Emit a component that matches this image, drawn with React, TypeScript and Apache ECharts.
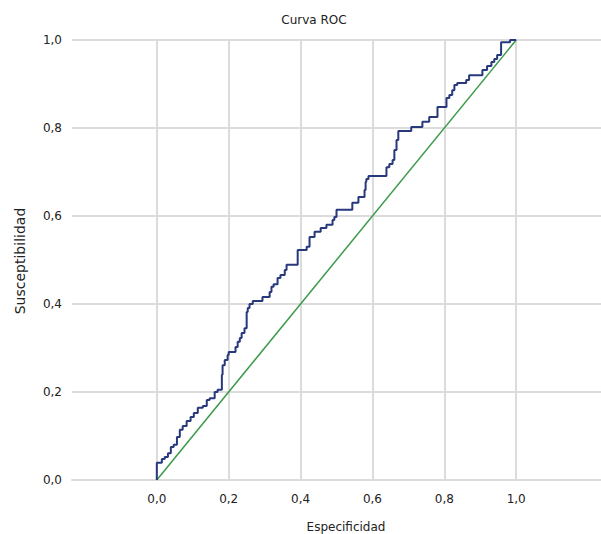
import React, { useEffect, useRef } from 'react';
import * as echarts from 'echarts';

const xTicks = [0, 0.2, 0.4, 0.6, 0.8, 1.0];
const rocX = [0, 0.014, 0.022, 0.031, 0.039, 0.047, 0.056, 0.064, 0.072, 0.083, 0.094, 0.103, 0.114, 0.128, 0.139, 0.147, 0.161, 0.169, 0.181, 0.183, 0.189, 0.197, 0.2, 0.219, 0.225, 0.231, 0.236, 0.244, 0.25, 0.253, 0.258, 0.267, 0.294, 0.314, 0.319, 0.325, 0.336, 0.344, 0.356, 0.361, 0.392, 0.417, 0.425, 0.439, 0.456, 0.472, 0.489, 0.494, 0.5, 0.544, 0.561, 0.578, 0.581, 0.583, 0.589, 0.639, 0.647, 0.656, 0.661, 0.667, 0.672, 0.708, 0.739, 0.758, 0.781, 0.806, 0.814, 0.822, 0.828, 0.836, 0.861, 0.869, 0.906, 0.919, 0.931, 0.939, 0.947, 0.958, 0.983, 1];
const rocY = [0, 0.039, 0.048, 0.052, 0.061, 0.075, 0.08, 0.098, 0.114, 0.123, 0.134, 0.143, 0.152, 0.164, 0.168, 0.182, 0.186, 0.2, 0.205, 0.239, 0.261, 0.273, 0.284, 0.291, 0.302, 0.314, 0.323, 0.334, 0.345, 0.382, 0.391, 0.4, 0.407, 0.416, 0.427, 0.439, 0.445, 0.459, 0.466, 0.477, 0.489, 0.523, 0.53, 0.552, 0.564, 0.573, 0.58, 0.591, 0.598, 0.614, 0.63, 0.643, 0.659, 0.677, 0.684, 0.691, 0.711, 0.718, 0.727, 0.75, 0.773, 0.793, 0.802, 0.814, 0.825, 0.848, 0.868, 0.875, 0.886, 0.898, 0.902, 0.909, 0.92, 0.932, 0.941, 0.95, 0.957, 0.966, 0.995, 1];
const refX = [0, 1];
const refY = [0, 1];

const FONT = '"DejaVu Sans", Verdana, sans-serif';
const TEXT = '#222222';
const GRID = '#dcdcdc';
const fmt = (v: number) => v.toFixed(1).replace('.', ',');

export default function App() {
  const ref = useRef<HTMLDivElement>(null);
  useEffect(() => {
    const chart = echarts.init(ref.current!, null, { renderer: 'svg' });
    chart.setOption({
      animation: false,
      backgroundColor: '#ffffff',
      grid: { left: 72, right: -1, top: 40, bottom: 54 },
      graphic: [
        { type: 'text', x: 314, y: 20, style: { text: 'Curva ROC', fontSize: 12, fontFamily: FONT, fill: TEXT, align: 'center', verticalAlign: 'middle' } },
        { type: 'text', x: 346, y: 527, style: { text: 'Especificidad', fontSize: 12, fontFamily: FONT, fill: TEXT, align: 'center', verticalAlign: 'middle' } },
        { type: 'text', x: 20, y: 261, rotation: Math.PI / 2, style: { text: 'Susceptibilidad', fontSize: 14, fontFamily: FONT, fill: TEXT, align: 'center', verticalAlign: 'middle' } },
      ],
      xAxis: {
        type: 'value',
        min: -0.236,
        max: 1.236,
        axisLine: { show: true, onZero: false, lineStyle: { color: GRID, width: 2 } },
        axisTick: { show: false, customValues: xTicks },
        axisLabel: { customValues: xTicks, formatter: fmt, color: TEXT, fontSize: 12, fontFamily: FONT, margin: 13 },
        splitLine: { show: true, lineStyle: { color: GRID, width: 2 } },
      },
      yAxis: {
        type: 'value',
        min: 0,
        max: 1,
        interval: 0.2,
        axisLine: { show: true, lineStyle: { color: GRID, width: 2 } },
        axisTick: { show: false },
        axisLabel: { formatter: fmt, color: TEXT, fontSize: 12, fontFamily: FONT, margin: 10 },
        splitLine: { show: true, lineStyle: { color: GRID, width: 2 } },
      },
      series: [
        {
          type: 'line',
          data: refX.map((x, i) => [x, refY[i]]),
          showSymbol: false,
          lineStyle: { color: '#3d9a4c', width: 1.5 },
          z: 2,
        },
        {
          type: 'line',
          step: 'start',
          data: rocX.map((x, i) => [x, rocY[i]]),
          showSymbol: false,
          lineStyle: { color: '#27387c', width: 2 },
          z: 3,
        },
      ],
    });
    return () => chart.dispose();
  }, []);
  return <div ref={ref} style={{ position: 'absolute', left: 0, top: 0, width: 601, height: 534 }} />;
}
